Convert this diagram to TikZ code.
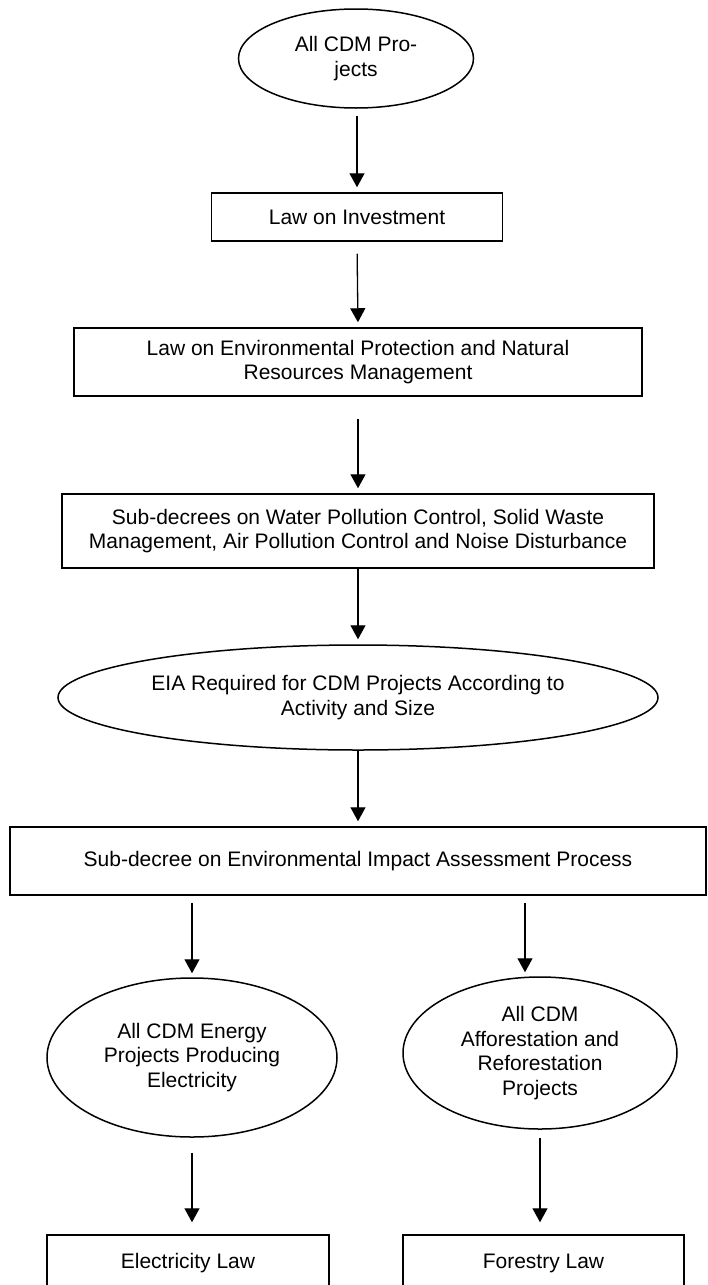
\documentclass[tikz,border=0pt]{standalone}
\usepackage{fontspec}
\setmainfont{Liberation Sans}
\usetikzlibrary{shapes.geometric,arrows.meta}
\begin{document}
\begin{tikzpicture}[x=1pt,y=-1pt,
  every node/.style={font=\fontsize{21}{24.5}\selectfont, align=center, inner sep=0pt},
  lawbox/.style={draw, line width=1.5pt, rectangle},
  oval/.style={draw, line width=1.5pt, ellipse},
  flow/.style={line width=1.3pt, -{Triangle[width=15pt,length=14pt]}}]
\useasboundingbox (0,0) rectangle (708,1285);
\fill[white] (0,0) rectangle (708,1285);
\node[oval, minimum width=235pt, minimum height=99pt] (all) at (356,58.5) {All CDM Pro-\\jects};
\node[lawbox, minimum width=291pt, minimum height=48pt] (inv) at (357,217) {Law on Investment};
\node[lawbox, minimum width=568pt, minimum height=68pt] (env) at (358,362) {Law on Environmental Protection and Natural\\Resources Management};
\node[lawbox, minimum width=592pt, minimum height=74pt] (sub) at (358,531) {Sub-decrees on Water Pollution Control, Solid Waste\\Management, Air Pollution Control and Noise Disturbance};
\node[oval, minimum width=600pt, minimum height=105pt] (eia) at (358,697.5) {EIA Required for CDM Projects According to\\Activity and Size};
\node[lawbox, minimum width=696pt, minimum height=68pt] (eiap) at (358,861) {Sub-decree on Environmental Impact Assessment Process};
\node[oval, minimum width=290pt, minimum height=159pt] (elec) at (192,1057.5) {All CDM Energy\\Projects Producing\\Electricity};
\node[oval, minimum width=274pt, minimum height=152pt] (affo) at (540,1053) {All CDM\\Afforestation and\\Reforestation\\Projects};
\node[lawbox, minimum width=282pt, minimum height=56pt] (elaw) at (188,1263) {Electricity Law};
\node[lawbox, minimum width=281pt, minimum height=56pt] (flaw) at (543.5,1263) {Forestry Law};

\draw[flow, shorten <=7pt, shorten >=5pt] (inv.north |- all.south) -- (inv.north);
\draw[flow, shorten <=12pt, shorten >=5pt] (inv.south) -- (env.north);
\draw[flow, shorten <=22pt, shorten >=5pt] (env.south) -- (sub.north);
\draw[flow, shorten >=5pt] (sub.south) -- (eia.north);
\draw[flow, shorten >=5pt] (eia.south) -- (eiap.north);
\draw[flow, shorten <=7pt, shorten >=4pt] (elec.north |- eiap.south) -- (elec.north);
\draw[flow, shorten <=7pt, shorten >=4pt] ([xshift=-15pt]affo.north |- eiap.south) -- ([xshift=-15pt]affo.north);
\draw[flow, shorten <=15pt, shorten >=12pt] (elec.south) -- (elec.south |- elaw.north);
\draw[flow, shorten <=8pt, shorten >=12pt] (affo.south) -- (affo.south |- flaw.north);
\end{tikzpicture}
\end{document}
